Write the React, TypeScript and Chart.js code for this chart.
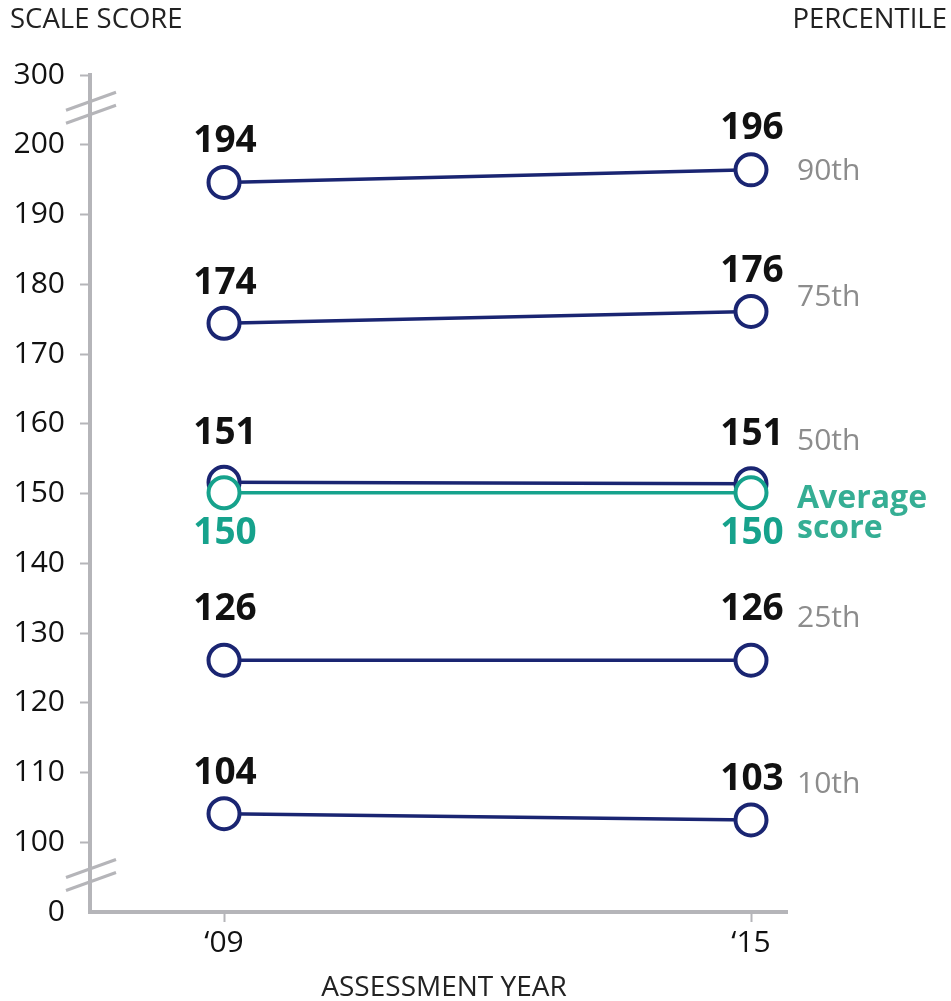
import React, { useEffect, useRef } from "react";
import { Chart, registerables } from "chart.js";

Chart.register(...registerables);

// ---- data ----
const years = ["\u201809", "\u201815"];
const yearPos = [0, 1];

const p90 = [194.6, 196.4];
const p75 = [174.4, 176.1];
const p50 = [151.6, 151.4];
const avgScore = [150.1, 150.1];
const p25 = [126.1, 126.1];
const p10 = [104.1, 103.2];

const p90Labels = ["194", "196"];
const p75Labels = ["174", "176"];
const p50Labels = ["151", "151"];
const avgLabels = ["150", "150"];
const p25Labels = ["126", "126"];
const p10Labels = ["104", "103"];

const seriesNames = ["90th", "75th", "50th", "Average score", "25th", "10th"];

// axis: virtual 90 -> "0", 210 -> "300" (broken axis)
const yTickValues = [90, 100, 110, 120, 130, 140, 150, 160, 170, 180, 190, 200, 210];
const yTickLabels = ["0", "100", "110", "120", "130", "140", "150", "160", "170", "180", "190", "200", "300"];
const breakValues = [205.3, 95.3];

const FONT = "'Open Sans', 'Noto Sans', sans-serif";
const NAVY = "#1a2572";
const TEAL = "#16a28c";
const TEAL_TEXT = "#35ae94";
const AXIS = "#b5b5b9";
const GRAY_TEXT = "#8c8c8c";

const labelPlugin = {
  id: "valueLabels",
  afterDatasetsDraw(chart: any) {
    const ctx = chart.ctx;
    ctx.save();
    chart.data.datasets.forEach((ds: any, i: number) => {
      const meta = chart.getDatasetMeta(i);
      ctx.font = `bold 37px ${FONT}`;
      ctx.textAlign = "center";
      ctx.textBaseline = "middle";
      ctx.fillStyle = ds.labelColor;
      meta.data.forEach((pt: any, j: number) => {
        ctx.fillText(ds.valueLabels[j], pt.x + 1, pt.y + ds.labelDy);
      });
      const last = meta.data[meta.data.length - 1];
      ctx.textAlign = "left";
      if (ds.isAverage) {
        ctx.font = `bold 32px ${FONT}`;
        ctx.fillStyle = TEAL_TEXT;
        const parts = ds.seriesName.split(" ");
        ctx.fillText(parts[0], 797, last.y + 6);
        ctx.fillText(parts[1], 797, last.y + 36);
      } else {
        ctx.font = `30px ${FONT}`;
        ctx.fillStyle = GRAY_TEXT;
        ctx.fillText(ds.seriesName, 797, last.y + ds.nameDy);
      }
    });
    ctx.restore();
  },
  afterDraw(chart: any) {
    const ctx = chart.ctx;
    const y = chart.scales.y;
    ctx.save();
    ctx.strokeStyle = AXIS;
    ctx.lineWidth = 3;
    breakValues.forEach((v) => {
      const cy = y.getPixelForValue(v);
      [-6.5, 6.5].forEach((o) => {
        ctx.beginPath();
        ctx.moveTo(66, cy + o + 9);
        ctx.lineTo(116, cy + o - 9);
        ctx.stroke();
      });
    });
    ctx.fillStyle = "#222";
    ctx.font = `27.5px ${FONT}`;
    ctx.textBaseline = "middle";
    ctx.textAlign = "left";
    ctx.fillText("SCALE SCORE", 10, 20);
    ctx.textAlign = "right";
    ctx.fillText("PERCENTILE", 947, 20);
    ctx.textAlign = "center";
    ctx.font = `28px ${FONT}`;
    ctx.fillText("ASSESSMENT YEAR", 444, 988);
    ctx.restore();
  },
};

function mk(name: string, data: number[], labels: string[], color: string, labelColor: string, labelDy: number, nameDy: number, order: number, isAverage = false) {
  return {
    label: name,
    seriesName: name,
    data: data.map((v, i) => ({ x: yearPos[i], y: v })),
    valueLabels: labels,
    labelColor,
    labelDy,
    nameDy,
    isAverage,
    order,
    borderColor: color,
    backgroundColor: "#ffffff",
    pointBackgroundColor: "#ffffff",
    pointBorderColor: color,
    pointRadius: 15.5,
    pointBorderWidth: 4,
    borderWidth: 3.5,
    showLine: true,
    tension: 0,
  };
}

export default function App() {
  const ref = useRef<HTMLCanvasElement>(null);
  useEffect(() => {
    if (!ref.current) return;
    const chart = new Chart(ref.current, {
      type: "scatter",
      data: {
        datasets: [
          mk(seriesNames[0], p90, p90Labels, NAVY, "#111", -41, 2, 1) as any,
          mk(seriesNames[1], p75, p75Labels, NAVY, "#111", -40, -14, 1),
          mk(seriesNames[2], p50, p50Labels, NAVY, "#111", -49, -42, 1),
          mk(seriesNames[3], avgScore, avgLabels, TEAL, TEAL, 41, 0, 0, true),
          mk(seriesNames[4], p25, p25Labels, NAVY, "#111", -51, -42, 1),
          mk(seriesNames[5], p10, p10Labels, NAVY, "#111", -40, -35, 1),
        ],
      },
      options: {
        responsive: false,
        animation: false,
        layout: { padding: { top: 75, right: 164, left: 0, bottom: 0 } },
        plugins: { legend: { display: false }, tooltip: { enabled: false }, title: { display: false } },
        scales: {
          x: {
            type: "linear",
            min: -0.2543,
            max: 1.0683,
            afterBuildTicks: (s: any) => {
              s.ticks = yearPos.map((v) => ({ value: v }));
            },
            afterFit: (s: any) => {
              s.height = 89;
            },
            ticks: {
              callback: (v: any) => years[yearPos.indexOf(Number(v))] ?? "",
              font: { family: FONT, size: 30 },
              color: "#111",
              padding: 3,
              maxRotation: 0,
            },
            grid: { display: true, drawOnChartArea: false, drawTicks: true, tickLength: 10, tickWidth: 2, tickColor: AXIS },
            border: { display: true, color: AXIS, width: 4 },
          },
          y: {
            type: "linear",
            min: 90,
            max: 210,
            afterBuildTicks: (s: any) => {
              s.ticks = yTickValues.map((v) => ({ value: v }));
            },
            afterFit: (s: any) => {
              s.width = 90;
            },
            ticks: {
              callback: (v: any) => yTickLabels[yTickValues.indexOf(Number(v))] ?? "",
              font: { family: FONT, size: 30 },
              color: "#111",
              padding: 15,
            },
            grid: {
              display: true,
              drawOnChartArea: false,
              drawTicks: true,
              tickLength: 10,
              tickWidth: 2,
              tickColor: (c: any) => (c.tick && c.tick.value === 90 ? "rgba(0,0,0,0)" : AXIS),
            },
            border: { display: true, color: AXIS, width: 4 },
          },
        },
      },
      plugins: [labelPlugin],
    } as any);
    return () => chart.destroy();
  }, []);
  return (
    <div style={{ position: "absolute", left: 0, top: 0, width: 951, height: 1001, background: "#fff" }}>
      <canvas ref={ref} width={951} height={1001} />
    </div>
  );
}
